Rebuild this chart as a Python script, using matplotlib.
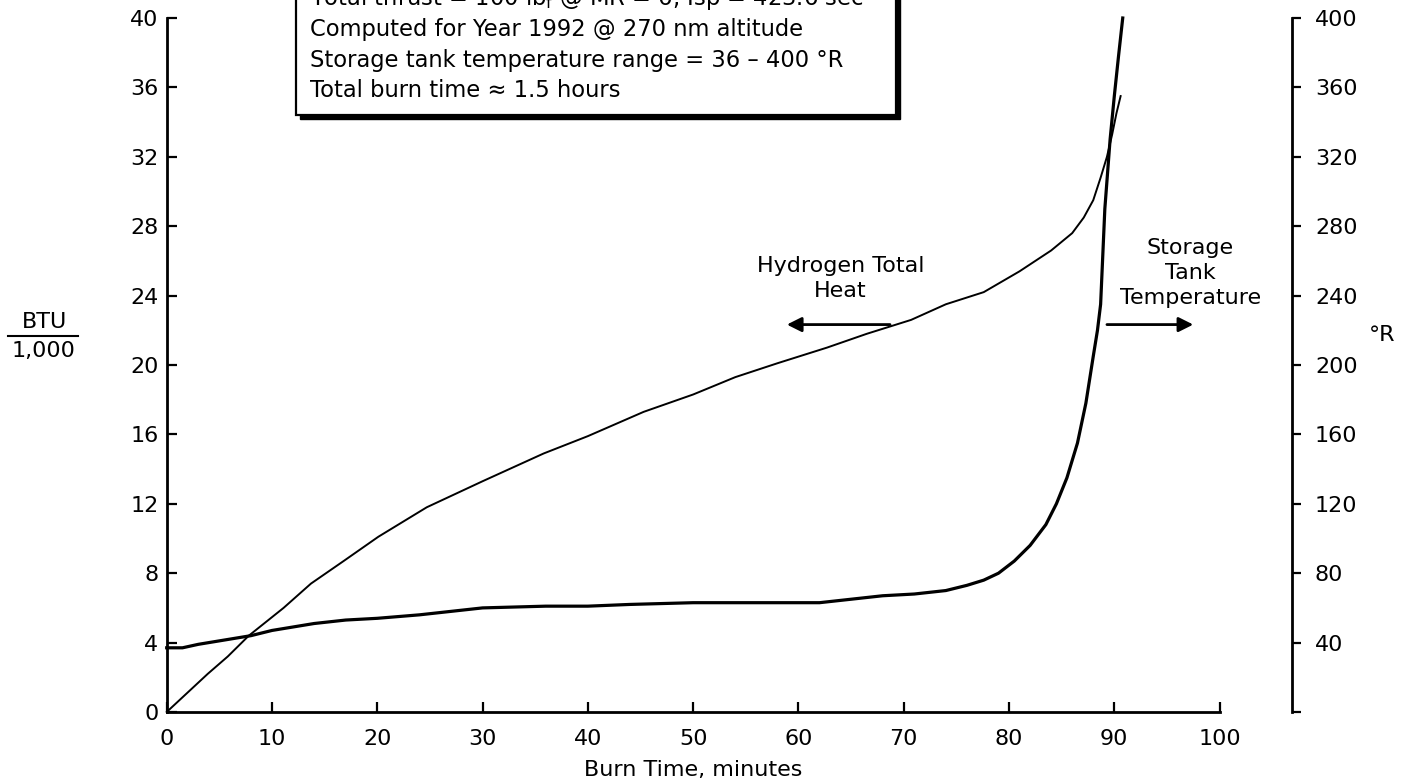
import numpy as np
import matplotlib
matplotlib.use("Agg")
import matplotlib.pyplot as plt
from matplotlib.patches import Rectangle
from matplotlib.lines import Line2D

plt.rcParams['font.family'] = 'DejaVu Sans'

# hydrogen total heat, BTU/1000
heat_time = [0, 3.9, 5.8, 7.8, 11.1, 13.7, 16.8, 20.1, 24.7, 30, 35.8, 40, 45.3, 50,
             54, 58, 62.7, 66.5, 70.7, 74, 77.6, 81, 84, 86, 87.1, 88, 88.7, 89.3,
             89.8, 90.2, 90.6]
heat = [0, 2.2, 3.2, 4.4, 6.0, 7.4, 8.7, 10.1, 11.8, 13.3, 14.9, 15.9, 17.3, 18.3,
        19.3, 20.1, 21.0, 21.8, 22.6, 23.5, 24.2, 25.4, 26.6, 27.6, 28.5, 29.5, 30.8,
        32.0, 33.3, 34.5, 35.5]

# storage tank temperature, deg R
temp_time = [0, 1.5, 3, 6, 8, 10, 14, 17, 20, 24, 27, 30, 36, 40, 44, 50, 56, 62, 65,
             68, 71, 74, 76, 77.6, 79, 80.5, 82, 83.5, 84.5, 85.5, 86.5, 87.3, 88,
             88.4, 88.7, 89.1, 89.6, 90.0, 90.4, 90.8]
temp = [37, 37, 39, 42, 44, 47, 51, 53, 54, 56, 58, 60, 61, 61, 62, 63, 63, 63, 65,
        67, 68, 70, 73, 76, 80, 87, 96, 108, 120, 135, 155, 178, 205, 220, 235, 290,
        330, 355, 378, 400]

x_ticks = np.arange(0, 101, 10)
heat_ticks = np.arange(0, 41, 4)
temp_ticks = np.arange(0, 401, 40)

notes = [r"Total thrust = 100 lb$_\mathregular{f}$ @ MR = 6, Isp = 423.6 sec",
         "Computed for Year 1992 @ 270 nm altitude",
         "Storage tank temperature range = 36 \u2013 400 \u00b0R",
         "Total burn time \u2248 1.5 hours"]

W, H = 1412, 783
fig = plt.figure(figsize=(W / 100, H / 100), dpi=100)
x0, x1, y0, y1 = 166.7, 1219.6, 712, 18
ax = fig.add_axes([x0 / W, 1 - y0 / H, (x1 - x0) / W, (y0 - y1) / H])

ax.plot(heat_time, heat, color='black', lw=1.4, clip_on=False)
ax.set_xlim(0, 100)
ax.set_ylim(0, 40)
ax.set_xticks(x_ticks)
ax.set_yticks(heat_ticks)
ax.spines[['top', 'right']].set_visible(False)
ax.spines[['left', 'bottom']].set_linewidth(2)
ax.tick_params(axis='both', direction='in', length=7, width=1.6, labelsize=16)
ax.tick_params(axis='x', pad=12)
ax.tick_params(axis='y', pad=6)
ax.set_xlabel("Burn Time, minutes", fontsize=16, labelpad=8)

ax2 = ax.twinx()
ax2.plot(temp_time, temp, color='black', lw=2.3, clip_on=False)
ax2.set_ylim(0, 400)
ax2.set_yticks(temp_ticks)
ax2.set_yticklabels([''] + [str(v) for v in temp_ticks[1:]])
ax2.spines[['top', 'left', 'bottom']].set_visible(False)
ax2.spines['right'].set_position(('axes', (1292 - x0) / (x1 - x0)))
ax2.spines['right'].set_linewidth(2)
ax2.tick_params(axis='y', direction='out', length=6.5, width=1.6, labelsize=16, pad=10)

# axis titles
fig.text(1382 / W, 1 - 335 / H, "\u00b0R", ha='center', va='center', fontsize=16)
fig.text(44 / W, 1 - 322 / H, "BTU", ha='center', va='center', fontsize=16)
fig.text(44 / W, 1 - 351 / H, "1,000", ha='center', va='center', fontsize=16)
fig.add_artist(Line2D([8 / W, 78 / W], [1 - 336 / H] * 2, color='black', lw=1.5))

# curve labels with arrows
ax.text(64.0, 25.0, "Hydrogen Total\nHeat", ha='center', va='center',
        fontsize=16, linespacing=1.3)
ax.annotate('', xy=(58.9, 22.33), xytext=(68.7, 22.33),
            arrowprops=dict(arrowstyle='-|>', color='black', lw=2,
                            mutation_scale=22, shrinkA=0, shrinkB=0))
ax.text(97.2, 25.3, "Storage\nTank\nTemperature", ha='center', va='center',
        fontsize=16, linespacing=1.3)
ax.annotate('', xy=(97.5, 22.33), xytext=(89.3, 22.33), annotation_clip=False,
            arrowprops=dict(arrowstyle='-|>', color='black', lw=2,
                            mutation_scale=22, shrinkA=0, shrinkB=0))

# note box with drop shadow, its top runs off the page
bl, br, bb, bt = 296, 896, 115, -20
fig.add_artist(Rectangle(((bl + 4) / W, 1 - (bb + 4) / H), (br - bl) / W, (bb - bt) / H,
                         transform=fig.transFigure, facecolor='black', edgecolor='black'))
fig.add_artist(Rectangle((bl / W, 1 - bb / H), (br - bl) / W, (bb - bt) / H,
                         transform=fig.transFigure, facecolor='white',
                         edgecolor='black', lw=1.6))
for i, line in enumerate(notes):
    fig.text(310 / W, 1 - (-1 + 30.5 * i) / H, line, ha='left', va='center',
             fontsize=16.3)

fig.savefig("out.png", dpi=100)
